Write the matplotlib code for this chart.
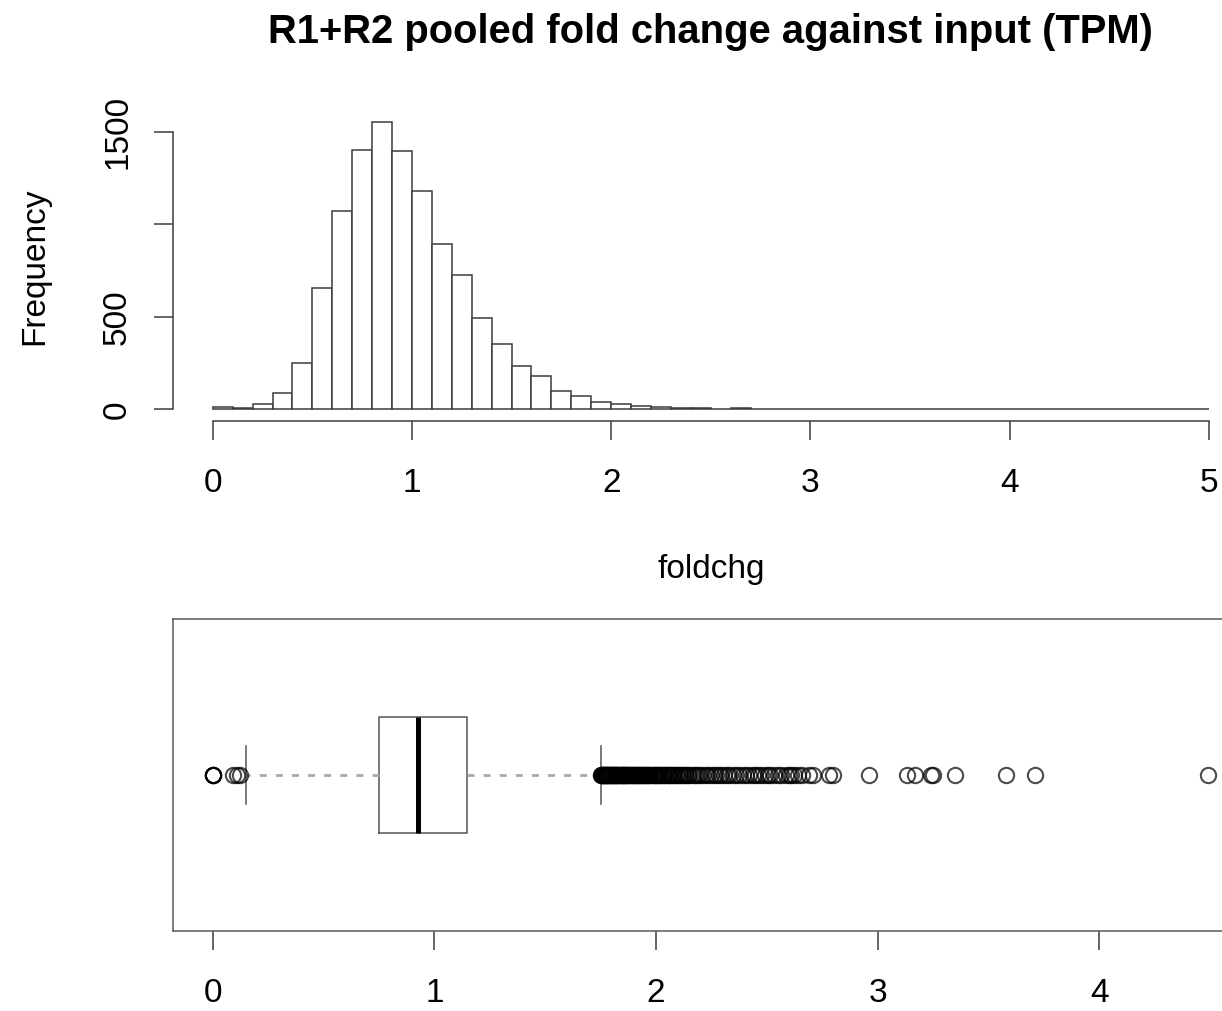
"""Histogram + horizontal boxplot of pooled fold change (R base-graphics look)."""

import matplotlib

matplotlib.use("Agg")
import matplotlib.pyplot as plt

# ---------------------------------------------------------------------------
# data
# ---------------------------------------------------------------------------
bin_edges = [0.0, 0.1, 0.2, 0.3, 0.4, 0.5, 0.6, 0.7, 0.8, 0.9,
             1.0, 1.1, 1.2, 1.3, 1.4, 1.5, 1.6, 1.7, 1.8, 1.9,
             2.0, 2.1, 2.2, 2.3, 2.4, 2.5, 2.6, 2.7, 2.8, 2.9,
             3.0, 3.1, 3.2, 3.3, 3.4, 3.5, 3.6, 3.7, 3.8, 3.9,
             4.0, 4.1, 4.2, 4.3, 4.4, 4.5, 4.6, 4.7, 4.8, 4.9, 5.0]
bin_counts = [14, 5, 30, 90, 248, 653, 1072, 1402, 1552, 1398,
              1182, 892, 726, 491, 350, 235, 180, 97, 70, 39,
              30, 18, 10, 8, 6, 4, 5, 2, 3, 1,
              0, 3, 2, 1, 0, 1, 0, 1, 0, 0,
              0, 0, 0, 0, 1, 0, 0, 0, 0, 0]
hist_yticks = [0, 500, 1000, 1500]
hist_xticks = [0, 1, 2, 3, 4, 5]

box_q1 = 0.75
box_median = 0.925
box_q3 = 1.148
whisker_low = 0.149
whisker_high = 1.75
fliers_low = [0.0, 0.0, 0.0, 0.0, 0.093, 0.108, 0.123]
# dense run just past the upper whisker (reads as a solid black band)
fliers_dense = [
    1.750, 1.752, 1.755, 1.757, 1.760, 1.762, 1.765, 1.768, 1.770, 1.773,
    1.775, 1.778, 1.780, 1.783, 1.786, 1.789, 1.791, 1.794, 1.797, 1.800,
    1.803, 1.806, 1.809, 1.812, 1.815, 1.818, 1.821, 1.824, 1.827, 1.830,
    1.834, 1.837, 1.840, 1.844, 1.847, 1.850, 1.854, 1.857, 1.861, 1.864,
    1.868, 1.871, 1.875, 1.879, 1.882, 1.886, 1.890, 1.894, 1.897, 1.901,
    1.905, 1.909, 1.913, 1.917, 1.921, 1.925, 1.930, 1.934, 1.938, 1.943,
    1.947, 1.951, 1.956, 1.960, 1.965, 1.970, 1.974, 1.979, 1.984, 1.989,
    1.994, 1.999, 2.004, 2.009, 2.014, 2.019, 2.025, 2.030, 2.036, 2.041,
    2.047, 2.053, 2.058, 2.064, 2.070, 2.076, 2.083, 2.089, 2.095, 2.102,
    2.108, 2.115, 2.122, 2.129, 2.136, 2.143,
]
fliers_tail = [
    2.150, 2.160, 2.170, 2.180, 2.190, 2.200, 2.212, 2.224, 2.236, 2.248,
    2.260, 2.270, 2.282, 2.294, 2.306, 2.318, 2.330, 2.345, 2.360, 2.375,
    2.390, 2.405, 2.420, 2.435, 2.448, 2.460, 2.475, 2.490, 2.505, 2.515,
    2.530, 2.548, 2.565, 2.585, 2.600, 2.610, 2.620, 2.640, 2.660, 2.690,
    2.710, 2.780, 2.800, 2.960, 3.130, 3.170, 3.240, 3.250, 3.350, 3.580,
    3.710, 4.490,
]
box_xticks = [0, 1, 2, 3, 4]

title = "R1+R2 pooled fold change against input (TPM)"
xlabel = "foldchg"
ylabel = "Frequency"

# ---------------------------------------------------------------------------
# layout (pixels of the 1222x1011 canvas)
# ---------------------------------------------------------------------------
W, H = 1222, 1011
LINE = "#3c3c3c"
FONT = "Liberation Sans"


def px_rect(left, top, right, bottom):
    return [left / W, 1 - bottom / H, (right - left) / W, (bottom - top) / H]


plt.rcParams["font.family"] = FONT
plt.rcParams["font.size"] = 24

fig = plt.figure(figsize=(W / 100, H / 100), dpi=100)
fig.patch.set_facecolor("white")

# ==========================================================================
# 1. HISTOGRAM
# ==========================================================================
ax1 = fig.add_axes(px_rect(172.9, 109.3, 1248.6, 421.1))
ax1.bar(bin_edges[:-1], bin_counts, width=0.1, align="edge",
        facecolor="white", edgecolor=LINE, linewidth=1.1)
ax1.set_xlim(-0.2, 5.2)
ax1.set_ylim(-64, 1621)
for side in ("top", "right"):
    ax1.spines[side].set_visible(False)
ax1.spines["left"].set_bounds(0, 1500)
ax1.spines["bottom"].set_bounds(0, 5)
for side in ("left", "bottom"):
    ax1.spines[side].set_color(LINE)
    ax1.spines[side].set_linewidth(1.1)
ax1.set_xticks(hist_xticks)
ax1.set_yticks(hist_yticks)
ax1.set_yticklabels(["0", "500", "", "1500"])
ax1.tick_params(axis="both", length=13.7, width=1.1, color=LINE, labelsize=24)
ax1.tick_params(axis="x", pad=20)
ax1.tick_params(axis="y", pad=15)
for t in ax1.get_yticklabels():
    t.set_rotation(90)
    t.set_va("center")

fig.text(710.5 / W, 1 - 43 / H, title, ha="center", va="baseline",
         fontsize=28.8, fontweight="bold")
fig.text(711 / W, 1 - 578 / H, xlabel, ha="center", va="baseline", fontsize=24)
fig.text(35 / W, 1 - 266 / H, ylabel, ha="center", va="center",
         rotation=90, fontsize=24)

# ==========================================================================
# 2. BOXPLOT
# ==========================================================================
ax2 = fig.add_axes(px_rect(172.8, 619, 1248, 931))
stats = [{
    "med": box_median, "q1": box_q1, "q3": box_q3,
    "whislo": whisker_low, "whishi": whisker_high,
    "fliers": fliers_low + fliers_dense + fliers_tail,
}]
ax2.bxp(
    stats, positions=[1], widths=0.4, capwidths=0.2,
    orientation="horizontal", manage_ticks=False,
    boxprops=dict(color="#555555", linewidth=1.1),
    whiskerprops=dict(color="#a8a8a8", linewidth=2.0, linestyle=(0, (2.5, 3.3))),
    capprops=dict(color="#555555", linewidth=1.1),
    medianprops=dict(color="black", linewidth=3.6),
    flierprops=dict(marker="o", markersize=11, markerfacecolor="none",
                    markeredgecolor=(0, 0, 0, 0.7), markeredgewidth=1.5,
                    linestyle="none"),
)
ax2.set_xlim(-0.18, 4.67)
ax2.set_ylim(0.46, 1.54)
ax2.set_yticks([])
ax2.set_xticks(box_xticks)
for side in ax2.spines:
    ax2.spines[side].set_color("#5a5a5a")
    ax2.spines[side].set_linewidth(1.1)
ax2.tick_params(axis="x", length=13.7, width=1.1, color=LINE, labelsize=24, pad=20)

fig.savefig("out.png", dpi=100, facecolor="white")
plt.close(fig)
